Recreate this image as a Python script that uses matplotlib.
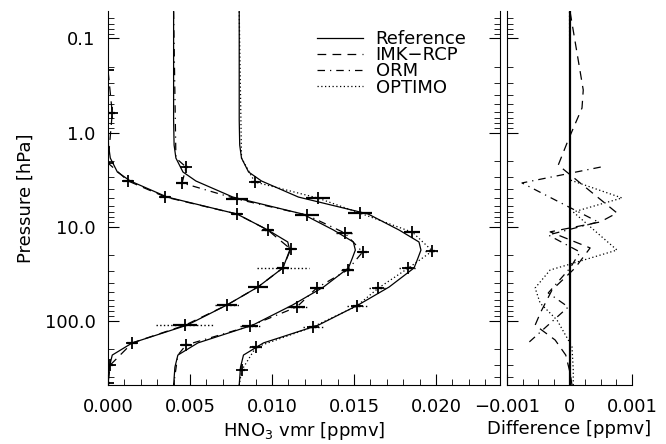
import numpy as np
import matplotlib.pyplot as plt
from matplotlib.lines import Line2D
from matplotlib.ticker import FixedLocator, FixedFormatter, LogLocator, MultipleLocator, NullFormatter

# Reference HNO3 profile (ppmv) against pressure (hPa)
ref_p = [0.0516, 0.736, 1.36, 1.87, 2.63, 3.28, 4.86, 7.36, 10.9, 14.6, 17.8, 21.6,
         27.6, 44.0, 68.4, 112, 173, 233, 313, 485]
ref_vmr = [0, 0, 0.00003, 0.00014, 0.00057, 0.00136, 0.00361, 0.00786, 0.00975, 0.01096,
           0.01108, 0.01090, 0.01066, 0.00914, 0.00725, 0.00482, 0.00148, 0.00026, 0.00008, 0]

# the three profiles are shifted along x
offsets = [0.0, 0.004, 0.008]

# IMK-RCP retrieval (first profile)
imk_p = [0.216, 0.62, 2.11, 3.28, 4.86, 7.36, 10.9, 17.4, 27.6, 44.0, 68.4, 112, 173, 297, 463]
imk_vmr = [0.0, 0.00026, 0.0, 0.00123, 0.0035, 0.00786, 0.00974, 0.01114, 0.01066,
           0.00914, 0.00725, 0.0047, 0.00148, 0.00014, 0.0]
imk_err = [0.00006, 0.00018, 0.00012, 0.0003, 0.0003, 0.0003, 0.0003, 0.0003, 0.00036,
           0.00061, 0.00061, 0.00073, 0.0003, 0.00018, 0.00012]
imk_err2 = [0, 0, 0, 0, 0, 0, 0.00043, 0, 0.00158, 0, 0.00073, 0.00176, 0, 0, 0]
imk_top_p, imk_top_v = [0.0516], [0.0]
imk_bot_p, imk_bot_v = [485], [0.0]

# ORM retrieval (second profile)
orm_p = [2.33, 3.44, 5.10, 7.55, 11.7, 18.7, 29.0, 45.1, 71.8, 114.5, 182]
orm_vmr = [0.00076, 0.00052, 0.00386, 0.00812, 0.01043, 0.01152, 0.01061, 0.00872,
           0.00751, 0.00465, 0.00076]
orm_err = [0.00012, 0.00036, 0.00067, 0.00073, 0.00043, 0.0003, 0.0003, 0.00043, 0.00049,
           0.00049, 0.0003]
orm_err2 = [0, 0, 0, 0, 0.00055, 0, 0.00043, 0, 0.00061, 0.00061, 0]
orm_top_p, orm_top_v = [0.0516, 1.87], [0.0, 0.00014]
orm_bot_p, orm_bot_v = [233, 485], [0.00026, 0.0]

# OPTIMO retrieval (third profile)
opt_p = [3.36, 4.97, 7.18, 11.5, 18.2, 27.6, 45.1, 70.2, 117, 192, 336]
opt_vmr = [0.00095, 0.00478, 0.00734, 0.01056, 0.01178, 0.01032, 0.00849, 0.00716,
           0.00448, 0.00102, 0.00016]
opt_err = [0.00024, 0.00073, 0.00073, 0.00049, 0.00018, 0.00024, 0.00024, 0.00024,
           0.00024, 0.00024, 0.00018]
opt_err2 = [0, 0, 0, 0, 0.00043, 0.00055, 0.00055, 0.00061, 0.00061, 0.00043, 0]
opt_top_p, opt_top_v = [0.0516, 1.87], [0.0, 0.00014]
opt_bot_p, opt_bot_v = [485], [0.0]

# Differences retrieval - reference (ppmv)
imk_diff_p = [0.0522, 0.353, 0.549, 1.20, 2.22, 7.18, 8.95, 11.4, 16.9, 27.6, 47.4, 81.2,
              112, 161, 233, 362, 486]
imk_diff = [0.00001, 0.00022, 0.0002, -0.00002, -0.00018, 0.00076, 0.00049, -0.00031,
            0.00033, 0.00009, -0.00028, -0.00046, -0.00055, -0.00023, -0.00006, 0.00001, 0.00004]
orm_diff_p = [2.33, 3.44, 6.20, 8.95, 12.3, 18.7, 27.6, 50.9, 71.8, 173]
orm_diff = [0.0005, -0.00076, -0.00001, 0.00046, -0.00034, 0.00017, 0.00001, -0.00034,
            -0.00002, -0.00066]
opt_diff_p = [0.0522, 3.20, 4.97, 7.01, 17.8, 25.7, 29.0, 45.1, 65.2, 98.8, 161, 191, 336, 486]
opt_diff = [0, 0.00001, 0.00084, 0.00006, 0.00076, -0.00004, -0.00031, -0.00055, -0.00047,
            -0.0002, -0.00002, 0.00004, 0.00006, 0.00006]

DASH = (7, 5)
DASHDOT = (6, 4, 1, 4)
DOT = (1, 2)

plt.rcParams['font.family'] = 'DejaVu Sans'
plt.rcParams['font.size'] = 13

fig = plt.figure(figsize=(6.66, 4.44), dpi=100)
ax = fig.add_axes([108 / 666, 1 - 385 / 444, 392 / 666, 374 / 444])
ax2 = fig.add_axes([507 / 666, 1 - 385 / 444, 125 / 666, 374 / 444])

ref = np.array(ref_vmr)
for off in offsets:
    ax.plot(ref + off, ref_p, color='k', lw=0.9)

sets = [
    (imk_p, imk_vmr, imk_err, imk_err2, imk_top_p, imk_top_v, imk_bot_p, imk_bot_v, DASH),
    (orm_p, orm_vmr, orm_err, orm_err2, orm_top_p, orm_top_v, orm_bot_p, orm_bot_v, DASHDOT),
    (opt_p, opt_vmr, opt_err, opt_err2, opt_top_p, opt_top_v, opt_bot_p, opt_bot_v, DOT),
]
for off, (p, v, e, e2, tp, tv, bp, bv, ds) in zip(offsets, sets):
    lp = np.r_[tp, p, bp]
    lv = np.r_[tv, v, bv] + off
    ax.plot(lv, lp, color='k', lw=0.9, dashes=ds)
    v = np.array(v) + off
    e = np.array(e)
    e2 = np.array(e2)
    ax.hlines(p, v - e2, v + e2, colors='k', lw=1.0, linestyles=':')
    ax.hlines(p, v - e, v + e, colors='k', lw=1.6)
    ax.plot(v, p, 'k+', ms=8, mew=1.3, ls='none')

ax.set_yscale('log')
ax.set_ylim(485, 0.051)
ax.set_xlim(0, 0.0239)
ax.xaxis.set_major_locator(MultipleLocator(0.005))
ax.xaxis.set_minor_locator(MultipleLocator(0.001))
ax.xaxis.set_major_formatter(plt.FuncFormatter(lambda x, pos: '%.3f' % x))
ax.yaxis.set_major_locator(FixedLocator([0.1, 1, 10, 100]))
ax.yaxis.set_major_formatter(FixedFormatter(['0.1', '1.0', '10.0', '100.0']))
ax.yaxis.set_minor_locator(LogLocator(base=10, subs=np.arange(2, 10)))
ax.yaxis.set_minor_formatter(NullFormatter())
ax.spines['top'].set_visible(False)
ax.tick_params(which='both', direction='in', right=True, top=False)
ax.tick_params(which='major', length=8, pad=9)
ax.tick_params(which='minor', length=4)
ax.set_xlabel('HNO$_3$ vmr [ppmv]', labelpad=3)
ax.set_ylabel('Pressure [hPa]', labelpad=7)

handles = [Line2D([], [], color='k', lw=0.9),
           Line2D([], [], color='k', lw=0.9, dashes=DASH),
           Line2D([], [], color='k', lw=0.9, dashes=DASHDOT),
           Line2D([], [], color='k', lw=0.9, dashes=DOT)]
ax.legend(handles, ['Reference', 'IMK\u2212RCP', 'ORM', 'OPTIMO'], loc='upper left',
          bbox_to_anchor=(0.533, 0.949), frameon=False, fontsize=13, handlelength=2.55,
          handletextpad=0.7, labelspacing=-0.1, borderpad=0, borderaxespad=0)

# difference panel
ax2.axvline(0, color='k', lw=1.6)
ax2.plot(imk_diff, imk_diff_p, color='k', lw=0.9, dashes=DASH)
ax2.plot(orm_diff, orm_diff_p, color='k', lw=0.9, dashes=DASHDOT)
ax2.plot(opt_diff, opt_diff_p, color='k', lw=0.9, dashes=DOT)
ax2.set_yscale('log')
ax2.set_ylim(485, 0.051)
ax2.set_xlim(-0.001, 0.001)
ax2.xaxis.set_major_locator(FixedLocator([-0.001, 0, 0.001]))
ax2.xaxis.set_major_formatter(FixedFormatter(['\u22120.001', '0', '0.001']))
ax2.xaxis.set_minor_locator(MultipleLocator(0.00025))
ax2.yaxis.set_major_locator(FixedLocator([0.1, 1, 10, 100]))
ax2.yaxis.set_minor_locator(LogLocator(base=10, subs=np.arange(2, 10)))
ax2.yaxis.set_major_formatter(NullFormatter())
ax2.yaxis.set_minor_formatter(NullFormatter())
ax2.spines['top'].set_visible(False)
ax2.spines['right'].set_visible(False)
ax2.tick_params(which='both', direction='in', top=False, right=False)
ax2.tick_params(which='major', length=8, pad=9)
ax2.tick_params(which='minor', length=4)
ax2.set_xlabel('Difference [ppmv]', labelpad=3)

fig.savefig('out.png', dpi=100)
